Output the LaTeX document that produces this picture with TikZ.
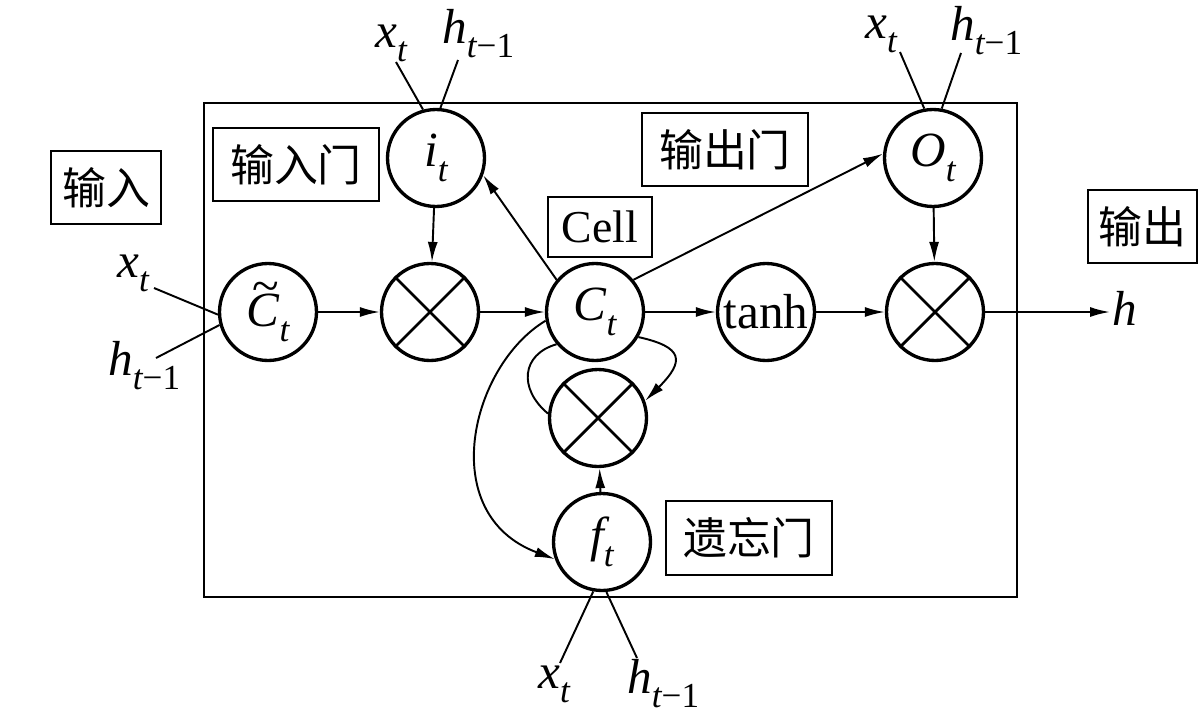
\documentclass[tikz,border=0pt]{standalone}
\usepackage{fontspec}
\setmainfont{Liberation Serif}
\newfontfamily\cjk{Noto Sans CJK SC}
\usetikzlibrary{arrows.meta}
\newcommand\vv[2]{{\itshape #1}\raisebox{-0.3em}{\fontsize{20}{20}\selectfont\itshape #2}}
\newcommand\tmo{t\upshape −1}
\newcommand\tildeC{\makebox[0pt][l]{\hspace{0.12em}\raisebox{0.5em}{\textasciitilde}}{\itshape C}}
\begin{document}
\begin{tikzpicture}[x=0.02cm,y=-0.02cm,
  gate/.style={circle,draw,line width=1.9pt,minimum size=1.94cm,inner sep=0pt,font=\fontsize{28}{30}\selectfont},
  lab/.style={draw,line width=1.6pt,inner sep=0pt,font=\cjk\fontsize{25}{28}\selectfont},
  var/.style={inner sep=0pt,font=\fontsize{28}{30}\selectfont},
  conn/.style={line width=1.1pt},
  arr/.style={conn,-{Latex[length=0.4cm,width=0.2cm]}},
  cross/.style={line width=1.6pt}
]
\useasboundingbox (0,0) rectangle (1200,727);
% frame
\draw[line width=1.6pt] (204,103) rectangle (1017,597);
% gates
\node[gate] (ctil) at (268,312) {\tildeC\raisebox{-0.3em}{\fontsize{20}{20}\selectfont\itshape t}};
\node[gate] (m1) at (430,312) {};
\node[gate] (ct) at (595,312) {\vv{C}{t}};
\node[gate] (tanh) at (766,312) {tanh};
\node[gate] (m2) at (935,312) {};
\node[gate] (it) at (436,158) {\vv{i}{t}};
\node[gate] (ot) at (933,158) {\vv{O}{t}};
\node[gate] (m3) at (598,418) {};
\node[gate] (ft) at (602,542) {\vv{f}{t}};
\foreach \m in {m1,m2,m3}{
  \draw[cross] (\m.45) -- (\m.225) (\m.135) -- (\m.315);
}
% boxed labels
\node[lab,minimum width=2.2cm,minimum height=1.46cm] (in) at (106,187.5) {输入};
\node[lab,minimum width=3.32cm,minimum height=1.46cm] (ing) at (296,164.5) {输入门};
\node[lab,minimum width=3.32cm,minimum height=1.46cm] (outg) at (725,149.5) {输出门};
\node[lab,minimum width=2.18cm,minimum height=1.46cm] (out) at (1142.5,226.5) {输出};
\node[lab,minimum width=3.32cm,minimum height=1.48cm] (fg) at (749,538) {遗忘门};
\node[lab,minimum width=2.08cm,minimum height=1.2cm,font=\fontsize{26}{28}\selectfont] (cell) at (600,227) {Cell};
% main connectors
\draw[arr] (ctil) -- (m1);
\draw[arr] (m1) -- (ct);
\draw[arr] (ct) -- (tanh);
\draw[arr] (tanh) -- (m2);
\coordinate (hout) at (1110,312);
\draw[arr] (m2) -- (hout);
\node[var,anchor=base west] (hlab) at (1112,325) {\itshape h};
\draw[arr] (it) -- (m1);
\draw[arr] (ot) -- (m2);
\draw[arr] (ct.140) -- (it.-20);
\draw[arr] (ct.40) -- (ot.175);
\draw[arr] (ft) -- (m3);
\draw[arr] (ct.-30) .. controls +(45,10) and +(40,-40) .. (m3.20);
\draw[conn] (ct.-140) .. controls +(-35,10) and +(-30,-25) .. (m3.175);
\draw[arr] (ct.190) .. controls +(-75,45) and +(-120,-45) .. (ft.200);
% inputs
\coordinate (a1) at (154,288);
\coordinate (a2) at (156,358);
\draw[conn] (a1) -- (ctil.183);
\draw[conn] (a2) -- (ctil.195);
\node[var,anchor=base west] (ax) at (117,277) {\vv{x}{t}};
\node[var,anchor=base west] (ah) at (108,375) {\vv{h}{\tmo}};
\coordinate (b1) at (396,62);
\coordinate (b2) at (458,60);
\draw[conn] (b1) -- (it.105);
\draw[conn] (b2) -- (it.85);
\node[var,anchor=base west] (bx) at (375,47) {\vv{x}{t}};
\node[var,anchor=base west] (bh) at (442,43) {\vv{h}{\tmo}};
\coordinate (c1) at (900,52);
\coordinate (c2) at (961,53);
\draw[conn] (c1) -- (ot.100);
\draw[conn] (c2) -- (ot.80);
\node[var,anchor=base west] (cx) at (865,38) {\vv{x}{t}};
\node[var,anchor=base west] (ch) at (950,40) {\vv{h}{\tmo}};
\coordinate (d1) at (560,663);
\coordinate (d2) at (637,658);
\draw[conn] (d1) -- (ft.-100);
\draw[conn] (d2) -- (ft.-85);
\node[var,anchor=base west] (dx) at (538,688) {\vv{x}{t}};
\node[var,anchor=base west] (dh) at (627,693) {\vv{h}{\tmo}};
\end{tikzpicture}
\end{document}
